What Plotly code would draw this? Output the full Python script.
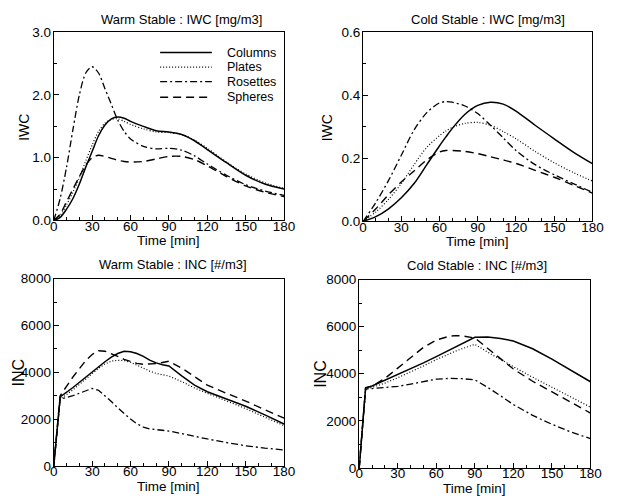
import plotly.graph_objects as go

# ---------------- data ----------------
species = ["Columns", "Plates", "Rosettes", "Spheres"]

# Warm Stable : IWC [mg/m3]
warm_iwc_t = [0, 5, 10, 15, 20, 25, 30, 35, 40, 45, 50, 55, 60, 70, 80, 90, 100, 110, 120, 135, 150, 165, 180]
warm_iwc = {
    "Columns":  [0, 0.05, 0.18, 0.35, 0.58, 0.85, 1.10, 1.35, 1.52, 1.62, 1.65, 1.63, 1.58, 1.50, 1.43, 1.41, 1.37, 1.27, 1.13, 0.92, 0.72, 0.58, 0.50],
    "Plates":   [0, 0.08, 0.25, 0.45, 0.68, 0.95, 1.20, 1.42, 1.55, 1.61, 1.62, 1.58, 1.53, 1.46, 1.41, 1.40, 1.37, 1.28, 1.15, 0.93, 0.74, 0.60, 0.51],
    "Rosettes": [0, 0.35, 0.85, 1.45, 2.00, 2.35, 2.45, 2.35, 2.10, 1.85, 1.60, 1.42, 1.30, 1.18, 1.14, 1.15, 1.12, 1.03, 0.90, 0.72, 0.57, 0.47, 0.40],
    "Spheres":  [0, 0.10, 0.30, 0.50, 0.70, 0.88, 1.00, 1.04, 1.02, 0.99, 0.96, 0.94, 0.93, 0.94, 0.98, 1.02, 1.02, 0.97, 0.87, 0.70, 0.55, 0.45, 0.38],
}

# Cold Stable : IWC [mg/m3]
cold_iwc_t = [0, 10, 20, 30, 40, 50, 60, 65, 70, 80, 90, 100, 110, 120, 135, 150, 165, 180]
cold_iwc = {
    "Columns":  [0, 0.015, 0.04, 0.075, 0.12, 0.18, 0.24, 0.268, 0.295, 0.34, 0.368, 0.378, 0.372, 0.350, 0.305, 0.262, 0.22, 0.183],
    "Plates":   [0, 0.03, 0.07, 0.12, 0.18, 0.235, 0.272, 0.287, 0.298, 0.311, 0.314, 0.305, 0.285, 0.262, 0.222, 0.186, 0.155, 0.128],
    "Rosettes": [0, 0.06, 0.13, 0.21, 0.29, 0.345, 0.376, 0.380, 0.378, 0.366, 0.342, 0.305, 0.265, 0.225, 0.180, 0.148, 0.120, 0.092],
    "Spheres":  [0, 0.04, 0.085, 0.125, 0.16, 0.195, 0.220, 0.225, 0.225, 0.222, 0.215, 0.205, 0.195, 0.184, 0.162, 0.140, 0.115, 0.090],
}

# Warm Stable : INC [#/m3]
warm_inc_t = [0, 5, 15, 25, 30, 35, 40, 45, 50, 55, 60, 65, 70, 75, 80, 85, 90, 100, 110, 120, 135, 150, 165, 180]
warm_inc = {
    "Columns":  [0, 2950, 3350, 3800, 4020, 4250, 4450, 4650, 4800, 4900, 4880, 4800, 4680, 4520, 4400, 4320, 4270, 3850, 3450, 3170, 2850, 2550, 2180, 1790],
    "Plates":   [0, 2850, 3250, 3700, 3950, 4170, 4350, 4480, 4510, 4500, 4430, 4300, 4170, 4050, 3950, 3880, 3840, 3600, 3330, 3100, 2780, 2450, 2080, 1720],
    "Rosettes": [0, 2850, 3000, 3220, 3310, 3230, 3000, 2750, 2480, 2230, 2000, 1800, 1660, 1580, 1550, 1520, 1490, 1380, 1260, 1150, 1000, 860, 760, 680],
    "Spheres":  [0, 3000, 3800, 4500, 4760, 4920, 4900, 4800, 4680, 4550, 4450, 4380, 4340, 4340, 4370, 4420, 4470, 4180, 3800, 3450, 3100, 2770, 2400, 2040],
}

# Cold Stable : INC [#/m3]
cold_inc_t = [0, 5, 10, 20, 30, 40, 50, 60, 70, 75, 80, 90, 100, 110, 120, 135, 150, 165, 180]
cold_inc = {
    "Columns":  [0, 3400, 3480, 3720, 3950, 4200, 4460, 4730, 5000, 5140, 5280, 5550, 5560, 5500, 5390, 5060, 4620, 4140, 3660],
    "Plates":   [0, 3350, 3420, 3600, 3830, 4070, 4330, 4600, 4850, 4960, 5060, 5250, 4920, 4600, 4300, 3850, 3420, 3000, 2580],
    "Rosettes": [0, 3350, 3370, 3400, 3460, 3560, 3680, 3770, 3800, 3800, 3790, 3740, 3420, 3060, 2690, 2230, 1850, 1520, 1240],
    "Spheres":  [0, 3400, 3470, 3800, 4240, 4700, 5120, 5430, 5590, 5620, 5610, 5520, 5080, 4630, 4200, 3680, 3220, 2780, 2330],
}

panel_titles = ["Warm Stable : IWC [mg/m3]", "Cold Stable : IWC [mg/m3]",
                "Warm Stable : INC [#/m3]", "Cold Stable : INC [#/m3]"]
y_titles = ["IWC", "IWC", "INC", "INC"]
x_title = "Time [min]"
x_ticks = [0, 30, 60, 90, 120, 150, 180]

# ---------------- styling ----------------
W, H = 620, 503
FONT = "Liberation Sans, Arial, Helvetica, sans-serif"
dash_styles = {"Columns": "solid", "Plates": "1px,2px", "Rosettes": "7px,3px,2px,3px", "Spheres": "8px,5px"}
line_widths = {"Columns": 1.5, "Plates": 1.2, "Rosettes": 1.3, "Spheres": 1.4}

panels = [
    (warm_iwc_t, warm_iwc, "spline", [0, 3.0], 1.0, 0.5, ".1f"),
    (cold_iwc_t, cold_iwc, "spline", [0, 0.6], 0.2, 0.1, ".1f"),
    (warm_inc_t, warm_inc, "linear", [0, 8000], 2000, 1000, "d"),
    (cold_inc_t, cold_inc, "linear", [0, 8000], 2000, 1000, "d"),
]

# pixel boxes (left, right, top, bottom) of each plot area
boxes = [(51, 287, 26, 220), (368, 603, 26, 221), (51, 287, 280, 473), (364, 601, 281, 475)]

fig = go.Figure()
tick_font = dict(family=FONT, size=13.5, color="black")

for i, (t, series, shape, yr, ydt, yminor, yfmt) in enumerate(panels):
    n = "" if i == 0 else str(i + 1)
    for sp in species:
        fig.add_trace(go.Scatter(
            x=t, y=series[sp], mode="lines", name=sp,
            line=dict(color="black", width=line_widths[sp], dash=dash_styles[sp],
                      shape=shape, smoothing=0.8 if shape == "spline" else None),
            showlegend=False, xaxis="x" + n, yaxis="y" + n,
        ))
    l, r, tp, b = boxes[i]
    axis_common = dict(showline=True, mirror=True, linecolor="black", linewidth=1.3,
                       ticks="inside", ticklen=5, tickwidth=1, tickcolor="black",
                       showgrid=False, zeroline=False, tickfont=tick_font)
    fig.update_layout(**{
        "xaxis" + n: dict(domain=[l / W, r / W], range=[0, 180], tickvals=x_ticks,
                          minor=dict(dtick=10, ticks="inside", ticklen=3, tickcolor="black"),
                          ticklabelstandoff=-7, anchor="y" + n, **axis_common),
        "yaxis" + n: dict(domain=[(H - b) / H, (H - tp) / H], range=yr, dtick=ydt, tickformat=yfmt,
                          minor=dict(dtick=yminor, ticks="inside", ticklen=3, tickcolor="black"),
                          ticklabelstandoff=-1, anchor="x" + n, **axis_common),
    })

# titles
title_pos = [(182, 13), (496, 13), (173, 265), (485, 266)]
annotations = []
shapes = []
for (cx, cy), txt in zip(title_pos, panel_titles):
    annotations.append(dict(text=txt, x=cx / W, y=1 - cy / H, xref="paper", yref="paper",
                            showarrow=False, xanchor="center", yanchor="middle",
                            font=dict(family=FONT, size=13, color="black")))
# x axis titles
for (l, r, tp, b) in boxes:
    annotations.append(dict(text=x_title, x=((l + r) / 2) / W, y=1 - (b + 21) / H, xref="paper", yref="paper",
                            showarrow=False, xanchor="center", yanchor="middle",
                            font=dict(family=FONT, size=13.5, color="black")))
# y axis titles
ytitle_pos = [(21, 124, 14), (331, 124, 14), (15, 377, 16), (325, 378, 16)]
for (cx, cy, fs), txt in zip(ytitle_pos, y_titles):
    annotations.append(dict(text=txt, x=cx / W, y=1 - cy / H, xref="paper", yref="paper",
                            showarrow=False, xanchor="center", yanchor="middle", textangle=-90,
                            font=dict(family=FONT, size=fs, color="black")))

# legend (key lines + labels) inside the first panel
legend_rows = [47, 62, 77, 93]
for sp, ry in zip(species, legend_rows):
    shapes.append(dict(type="line", xref="paper", yref="paper",
                       x0=160 / W, x1=213 / W, y0=1 - ry / H, y1=1 - ry / H,
                       line=dict(color="black", width=line_widths[sp], dash=dash_styles[sp])))
    annotations.append(dict(text=sp, x=226 / W, y=1 - ry / H, xref="paper", yref="paper",
                            showarrow=False, xanchor="left", yanchor="middle",
                            font=dict(family=FONT, size=12.5, color="black")))

fig.update_layout(
    width=W, height=H, margin=dict(l=0, r=0, t=0, b=0),
    paper_bgcolor="white", plot_bgcolor="white",
    annotations=annotations, shapes=shapes, showlegend=False,
)

fig.write_html("out.html")
